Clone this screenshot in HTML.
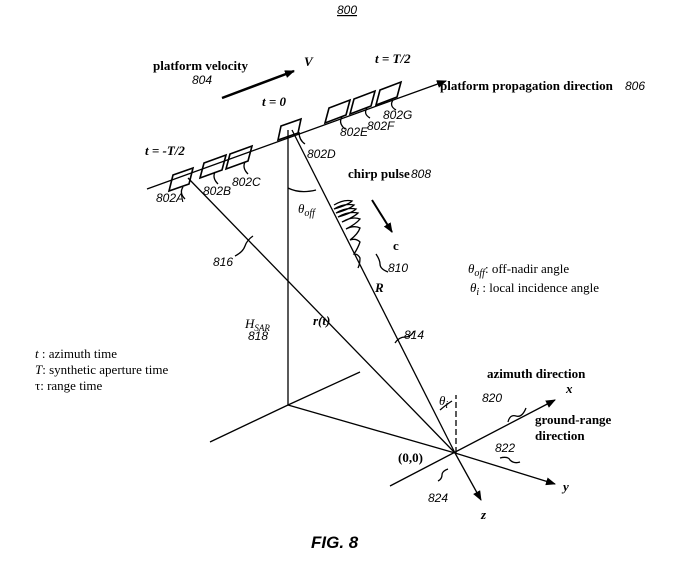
<!DOCTYPE html>
<html><head><style>body{margin:0;background:#fff}svg{display:block}</style></head><body>
<svg width="700" height="582" viewBox="0 0 700 582" xmlns="http://www.w3.org/2000/svg" font-family="Liberation Serif, serif" fill="#000">
<defs><marker id="a" markerWidth="10" markerHeight="8" refX="9" refY="4" orient="auto" markerUnits="userSpaceOnUse"><path d="M0,0 L10,4 L0,8 z"/></marker></defs>
<g stroke="#000" stroke-width="1.3" fill="none">
<line x1="147" y1="189" x2="446" y2="81" marker-end="url(#a)"/>
<line x1="222" y1="98" x2="294" y2="71" stroke-width="2.5" marker-end="url(#a)"/>
<line x1="288" y1="130" x2="288" y2="405"/>
<line x1="292" y1="130" x2="455" y2="453"/>
<line x1="188" y1="178" x2="455" y2="453"/>
<line x1="288" y1="405" x2="360" y2="372"/>
<line x1="288" y1="405" x2="210" y2="442"/>
<line x1="288" y1="405" x2="455" y2="453"/>
<line x1="390" y1="486" x2="555" y2="400" marker-end="url(#a)"/>
<line x1="455" y1="453" x2="555" y2="484" marker-end="url(#a)"/>
<line x1="455" y1="453" x2="481" y2="500" marker-end="url(#a)"/>
<line x1="456" y1="453" x2="456" y2="395" stroke-dasharray="6,3"/>
<line x1="372" y1="200" x2="392" y2="232" stroke-width="2" marker-end="url(#a)"/>
<path d="M288,188 Q300,194 316,190"/>
<path d="M440,410 Q447,404 452,401"/>
<g stroke-width="1.6">
<path d="M173,175 L193,168 L189,184 L169,191 z"/>
<path d="M204,163 L226,155 L222,170 L200,178 z"/>
<path d="M230,154 L252,146 L248,161 L226,169 z"/>
<path d="M281,126 L301,119 L298,133 L278,140 z"/>
<path d="M329,108 L350,100 L346,115 L325,123 z"/>
<path d="M354,99 L375,91 L371,106 L350,114 z"/>
<path d="M380,90 L401,82 L397,97 L376,105 z"/>
</g>
<path d="M183,187 q-4,6 2,12"/><path d="M215,172 q-3,6 3,12"/><path d="M245,162 q-3,6 3,12"/>
<path d="M299,132 q0,8 6,12"/><path d="M342,117 q-4,6 3,12"/><path d="M367,108 q-4,6 3,10"/><path d="M393,100 q-4,6 3,10"/>
<path d="M235,256 q8,-4 10,-10 q2,-6 8,-10"/>
<path d="M376,254 q4,6 4,10 q0,5 8,8"/>
<path d="M395,343 q4,-6 10,-6 q6,0 9,-6"/>
<path d="M508,422 q2,-8 8,-6 q6,2 10,-8"/>
<path d="M500,458 q8,-2 10,2 q4,4 10,2"/>
<path d="M448,469 q-6,2 -6,6 q0,4 -4,6"/>
<path d="M334,205 q10,-6 18,-4 q-4,4 -18,8 q10,-6 20,-4 q-4,4 -18,8 q10,-6 20,-4 q-4,4 -18,8 q10,-6 20,-4 q-4,4 -16,9 q10,-6 18,-3 q-4,5 -14,10 q8,-4 14,-1 q-2,6 -10,12 q6,-2 10,2 q-2,6 -6,12 q4,0 6,4 q0,6 -2,10"/>
</g>
<g font-size="13" font-weight="bold">
<text x="153" y="70">platform velocity</text>
<text x="440" y="90">platform propagation direction</text>
<text x="348" y="178">chirp pulse</text>
<text x="487" y="378">azimuth direction</text>
<text x="535" y="424">ground-range</text>
<text x="535" y="440">direction</text>
<text x="398" y="462">(0,0)</text>
<text x="393" y="250">c</text>
</g>
<g font-size="13" font-style="italic" font-weight="bold">
<text x="304" y="66">V</text>
<text x="375" y="63">t = T/2</text>
<text x="262" y="106">t = 0</text>
<text x="145" y="155">t = -T/2</text>
<text x="375" y="292">R</text>
<text x="313" y="325">r(t)</text>
</g>
<g font-size="12" font-family="Liberation Sans, sans-serif" font-style="italic">
<text x="337" y="14" text-decoration="underline">800</text>
<text x="192" y="84">804</text>
<text x="625" y="90">806</text>
<text x="156" y="202">802A</text>
<text x="203" y="195">802B</text>
<text x="232" y="186">802C</text>
<text x="307" y="158">802D</text>
<text x="340" y="136">802E</text>
<text x="367" y="130">802F</text>
<text x="383" y="119">802G</text>
<text x="411" y="178">808</text>
<text x="388" y="272">810</text>
<text x="213" y="266">816</text>
<text x="404" y="339">814</text>
<text x="248" y="340">818</text>
<text x="482" y="402">820</text>
<text x="495" y="452">822</text>
<text x="428" y="502">824</text>
</g>
<g font-size="13">
<text x="298" y="213" font-style="italic">θ<tspan font-size="10" dy="3">off</tspan></text>
<text x="439" y="405" font-style="italic">θ<tspan font-size="10" dy="3">i</tspan></text>
<text x="245" y="328" font-style="italic">H<tspan font-size="9" dy="3">SAR</tspan></text>
<text x="468" y="273"><tspan font-style="italic">θ<tspan font-size="10" dy="3">off</tspan></tspan><tspan dy="-3">: off-nadir angle</tspan></text>
<text x="470" y="292"><tspan font-style="italic">θ<tspan font-size="10" dy="3">i</tspan></tspan><tspan dy="-3"> : local incidence angle</tspan></text>
<text x="35" y="358"><tspan font-style="italic">t</tspan> : azimuth time</text>
<text x="35" y="374"><tspan font-style="italic">T</tspan>: synthetic aperture time</text>
<text x="35" y="390">τ: range time</text>
<text x="566" y="393" font-style="italic" font-weight="bold">x</text>
<text x="563" y="491" font-style="italic" font-weight="bold">y</text>
<text x="481" y="519" font-style="italic" font-weight="bold">z</text>
</g>
<text x="311" y="548" font-family="Liberation Sans, sans-serif" font-size="17" font-style="italic" font-weight="bold">FIG. 8</text>
</svg>
</body></html>
